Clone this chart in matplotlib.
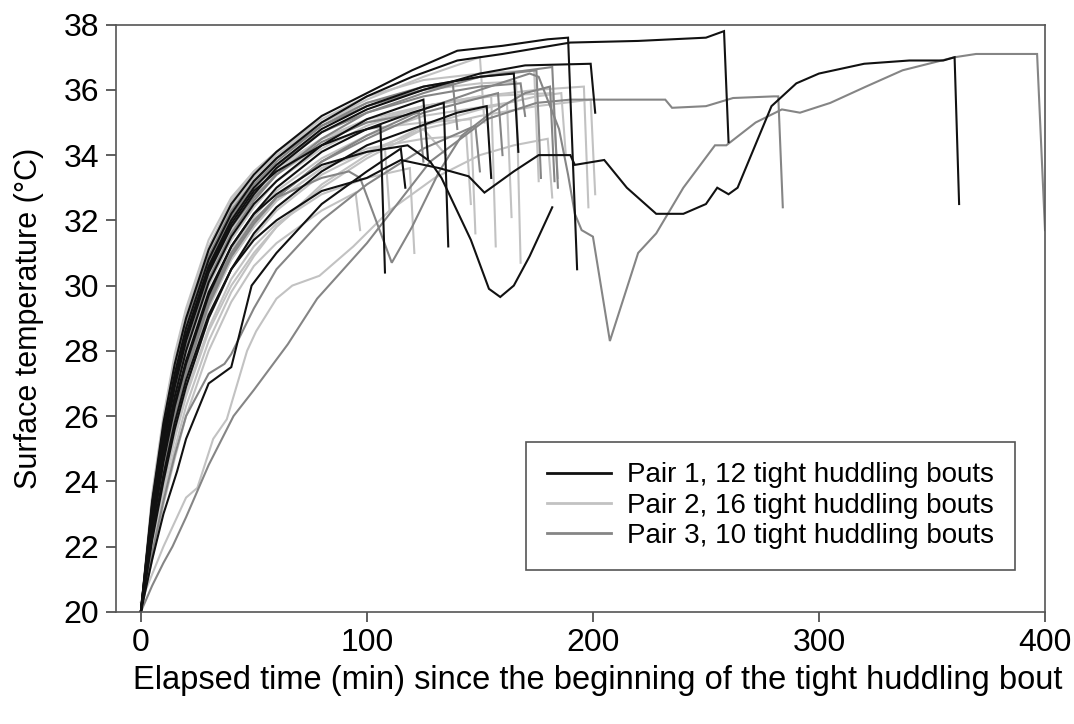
import matplotlib
matplotlib.use("Agg")
import matplotlib.pyplot as plt
from matplotlib.lines import Line2D

plt.rcParams['font.family'] = ['Liberation Sans', 'DejaVu Sans']

# Each bout: (elapsed time in min, surface temperature in degC)
pair1_bouts = [
    ([0, 5, 10, 14], [20, 23.3, 25.6, 26.8]),
    ([0, 5, 10, 15, 20, 30, 40, 50, 60, 80, 100, 120, 140, 160, 190, 220, 250, 258, 260],
     [20, 23.2, 25.5, 27.3, 28.7, 30.8, 32.2, 33.2, 33.9, 35.0, 35.8, 36.4, 36.9, 37.1, 37.45, 37.5, 37.6, 37.8, 34.4]),
    ([0, 5, 10, 15, 20, 30, 40, 50, 60, 80, 100, 120, 140, 160, 180, 189, 193],
     [20, 23.4, 25.8, 27.6, 29.0, 31.1, 32.5, 33.4, 34.1, 35.2, 35.9, 36.6, 37.2, 37.35, 37.55, 37.6, 30.5]),
    ([0, 5, 10, 15, 20, 30, 40, 50, 60, 80, 100, 125, 150, 170, 199, 201],
     [20, 22.8, 25.1, 26.9, 28.3, 30.4, 31.8, 32.8, 33.6, 34.7, 35.4, 36.0, 36.5, 36.75, 36.8, 35.3]),
    ([0, 5, 10, 15, 20, 30, 40, 50, 60, 80, 100, 115, 132, 145, 152, 165, 176, 190, 192, 205, 215, 228,
      240, 250, 255, 260, 264, 270, 279, 290, 300, 320, 340, 355, 360, 362],
     [20, 22.3, 24.2, 25.8, 27.1, 29.1, 30.5, 31.4, 32.0, 32.9, 33.3, 33.85, 33.6, 33.35, 32.85, 33.5, 34.0,
      34.0, 33.7, 33.85, 33.0, 32.2, 32.2, 32.5, 33.0, 32.8, 33.0, 34.0, 35.5, 36.2, 36.5, 36.8, 36.9, 36.9,
      37.0, 32.5]),
    ([0, 5, 10, 15, 20, 30, 40, 50, 60, 80, 100, 118, 128, 133, 146, 154, 159, 165, 172, 178, 182],
     [20, 22.6, 24.7, 26.4, 27.7, 29.8, 31.2, 32.2, 32.8, 33.7, 34.1, 34.3, 33.8, 33.3, 31.4, 29.9, 29.65,
      30.0, 30.9, 31.8, 32.4]),
    ([0, 5, 10, 15, 20, 30, 40, 50, 60, 80, 95, 106, 108],
     [20, 22.9, 25.2, 27.0, 28.4, 30.5, 31.9, 32.9, 33.5, 34.3, 34.7, 34.9, 30.4]),
    ([0, 5, 10, 15, 20, 30, 40, 50, 60, 80, 100, 120, 134, 136],
     [20, 22.5, 24.6, 26.3, 27.6, 29.7, 31.2, 32.2, 33.0, 34.1, 34.8, 35.3, 35.6, 31.2]),
    ([0, 5, 10, 15, 20, 30, 40, 50, 60, 80, 100, 120, 140, 153, 155],
     [20, 22.2, 24.0, 25.6, 26.9, 29.0, 30.5, 31.6, 32.4, 33.5, 34.3, 34.8, 35.3, 35.5, 33.3]),
    ([0, 5, 10, 15, 20, 30, 40, 50, 60, 80, 100, 125, 150, 165, 167],
     [20, 23.0, 25.3, 27.1, 28.5, 30.6, 32.0, 33.0, 33.7, 34.8, 35.5, 36.1, 36.4, 36.5, 34.1]),
    ([0, 5, 10, 15, 20, 30, 40, 50, 60, 80, 100, 125, 127],
     [20, 22.7, 24.9, 26.6, 28.0, 30.1, 31.5, 32.5, 33.2, 34.3, 35.1, 35.7, 33.9]),
    ([0, 5, 10, 16, 20, 30, 40, 49, 60, 80, 100, 115, 117],
     [20, 21.6, 23.0, 24.3, 25.3, 27.0, 27.5, 30.0, 31.0, 32.5, 33.5, 34.2, 33.0]),
]

pair2_bouts = [
    ([0, 5, 10, 15, 20, 30, 40, 50, 60, 80, 100, 125, 150, 152],
     [20, 23.6, 26.0, 27.9, 29.3, 31.4, 32.7, 33.5, 34.1, 35.0, 35.7, 36.4, 37.0, 35.0]),
    ([0, 5, 10, 15, 20, 30, 40, 50, 60, 80, 95, 97],
     [20, 21.6, 23.3, 24.7, 26.0, 28.0, 29.5, 30.6, 31.3, 32.3, 32.85, 31.7]),
    ([0, 5, 10, 15, 20, 30, 40, 50, 60, 80, 100, 119, 121],
     [20, 22.0, 23.9, 25.4, 26.7, 28.7, 30.2, 31.2, 31.9, 32.8, 33.3, 33.6, 31.0]),
    ([0, 5, 10, 15, 20, 30, 40, 50, 60, 80, 100, 125, 144, 146],
     [20, 22.3, 24.3, 25.9, 27.2, 29.3, 30.8, 31.8, 32.6, 33.6, 34.2, 34.5, 34.6, 32.5]),
    ([0, 5, 10, 15, 20, 30, 40, 50, 60, 80, 100, 125, 146, 148],
     [20, 22.8, 25.0, 26.8, 28.2, 30.3, 31.7, 32.7, 33.4, 34.3, 34.8, 35.0, 35.1, 31.6]),
    ([0, 5, 10, 15, 20, 30, 40, 50, 60, 80, 100, 125, 155, 157],
     [20, 23.1, 25.4, 27.2, 28.6, 30.6, 32.0, 32.9, 33.6, 34.5, 35.0, 35.5, 35.8, 31.2]),
    ([0, 5, 10, 15, 20, 30, 40, 50, 60, 80, 100, 125, 162, 164],
     [20, 22.5, 24.6, 26.3, 27.6, 29.7, 31.1, 32.1, 32.9, 33.9, 34.6, 35.2, 35.6, 32.1]),
    ([0, 5, 10, 15, 20, 30, 40, 50, 60, 80, 100, 125, 150, 166, 168],
     [20, 23.3, 25.7, 27.5, 28.9, 31.0, 32.4, 33.3, 34.0, 35.0, 35.6, 36.0, 36.2, 36.25, 30.7]),
    ([0, 5, 10, 15, 20, 30, 40, 50, 60, 80, 100, 125, 150, 182, 184.5],
     [20, 22.9, 25.2, 27.0, 28.4, 30.4, 31.8, 32.8, 33.5, 34.5, 35.1, 35.5, 35.8, 35.9, 33.3]),
    ([0, 5, 10, 15, 20, 30, 40, 50, 60, 80, 100, 125, 150, 175, 196, 198],
     [20, 22.6, 24.8, 26.5, 27.9, 30.0, 31.4, 32.4, 33.2, 34.2, 34.9, 35.5, 35.8, 36.0, 36.1, 32.4]),
    ([0, 5, 10, 15, 20, 30, 40, 50, 60, 80, 100, 125, 150, 175, 199, 201],
     [20, 22.1, 24.0, 25.6, 26.9, 29.0, 30.5, 31.5, 32.3, 33.4, 34.1, 34.8, 35.2, 35.5, 35.7, 32.8]),
    ([0, 5, 10, 15, 20, 30, 40, 50, 60, 80, 100, 125, 150, 174, 176],
     [20, 23.5, 25.9, 27.8, 29.2, 31.2, 32.6, 33.5, 34.1, 35.1, 35.8, 36.3, 36.5, 36.6, 33.2]),
    ([0, 5, 10, 15, 20, 30, 40, 50, 60, 80, 100, 125, 135],
     [20, 22.0, 23.8, 25.3, 26.6, 28.6, 30.0, 31.0, 31.8, 33.0, 33.9, 34.8, 34.0]),
    ([0, 5, 10, 15, 20, 30, 40, 50, 60, 80, 100, 125, 150, 175, 186, 188],
     [20, 21.8, 23.6, 25.0, 26.3, 28.3, 29.8, 30.9, 31.8, 33.1, 34.0, 34.9, 35.4, 35.8, 35.9, 34.0]),
    ([0, 5, 10, 15, 20, 30, 40, 50, 60, 80, 100, 108, 110],
     [20, 22.4, 24.5, 26.1, 27.4, 29.4, 30.8, 31.8, 32.6, 33.6, 34.1, 34.2, 32.3]),
    ([0, 10, 20, 25, 32, 38, 47, 51, 60, 67, 79, 94, 110, 130, 150, 165, 180, 182],
     [20.3, 22.0, 23.5, 23.8, 25.3, 25.9, 28.0, 28.6, 29.6, 30.0, 30.3, 31.2, 32.3, 33.3, 34.0, 34.3, 34.5, 32.7]),
]

pair3_bouts = [
    ([0, 5, 10, 14, 20, 30, 41, 50, 65, 78, 100, 128, 153, 175, 190, 200, 232, 235, 250, 262, 280, 282, 284],
     [20, 20.8, 21.5, 22.0, 22.9, 24.5, 26.0, 26.8, 28.2, 29.6, 31.3, 33.8, 35.1, 35.6, 35.7, 35.7, 35.7,
      35.45, 35.5, 35.75, 35.8, 35.8, 32.4]),
    ([0, 5, 10, 15, 20, 30, 40, 50, 60, 80, 100, 125, 150, 172, 176, 185, 189, 192, 195, 200, 207.5, 220,
      228, 240, 254, 259, 272, 283.6, 291.6, 305, 320.8, 337, 360, 369.5, 396.5, 400],
     [20, 22.4, 24.4, 26.0, 27.3, 29.4, 30.9, 31.9, 32.7, 33.8, 34.6, 35.4, 36.0, 36.5, 36.4, 34.8, 33.4,
      32.2, 31.7, 31.5, 28.3, 31.0, 31.6, 33.0, 34.3, 34.3, 35.0, 35.4, 35.3, 35.6, 36.1, 36.6, 37.0, 37.1,
      37.1, 31.7]),
    ([0, 5, 10, 15, 20, 30, 40, 50, 60, 80, 92, 97, 111, 120, 132, 142, 155, 170, 181, 183],
     [20, 22.5, 24.5, 26.1, 27.5, 29.6, 31.0, 32.0, 32.7, 33.3, 33.5, 33.3, 30.7, 31.8, 33.5, 34.6, 35.3,
      35.9, 36.1, 33.2]),
    ([0, 5, 10, 15, 20, 30, 40, 50, 60, 80, 100, 125, 150, 175, 177],
     [20, 23.0, 25.4, 27.2, 28.6, 30.7, 32.1, 33.1, 33.8, 34.9, 35.6, 36.1, 36.4, 36.6, 33.3]),
    ([0, 5, 10, 15, 20, 30, 40, 50, 60, 80, 100, 125, 150, 182, 184.5],
     [20, 22.7, 25.0, 26.7, 28.1, 30.2, 31.6, 32.6, 33.4, 34.5, 35.3, 35.9, 36.4, 36.7, 33.0]),
    ([0, 5, 10, 15, 20, 30, 40, 50, 60, 80, 100, 125, 138, 140],
     [20, 23.3, 25.7, 27.5, 28.9, 30.9, 32.3, 33.2, 33.9, 34.9, 35.5, 36.0, 36.2, 34.8]),
    ([0, 5, 10, 15, 20, 30, 40, 50, 60, 80, 100, 125, 158, 160],
     [20, 22.4, 24.5, 26.1, 27.5, 29.5, 30.9, 31.9, 32.7, 33.8, 34.5, 35.3, 35.9, 34.0]),
    ([0, 5, 10, 15, 20, 30, 40, 50, 60, 80, 100, 123, 125],
     [20, 23.0, 25.3, 27.0, 28.4, 30.4, 31.8, 32.7, 33.4, 34.4, 35.0, 35.3, 33.8]),
    ([0, 5, 10, 15, 20, 30, 40, 50, 60, 80, 100, 125, 150, 168, 170],
     [20, 23.2, 25.5, 27.3, 28.7, 30.7, 32.1, 33.0, 33.7, 34.7, 35.3, 35.8, 36.1, 36.2, 35.2]),
    ([0, 5, 10, 15, 20, 30, 37, 40, 50, 60, 80, 100, 125, 148, 150],
     [20, 21.8, 23.4, 24.8, 26.0, 27.3, 27.6, 27.9, 29.3, 30.5, 32.0, 33.1, 34.2, 34.9, 33.5]),
]

pair_colors = ['#111111', '#c2c2c2', '#858585']
pair_labels = ['Pair 1, 12 tight huddling bouts',
               'Pair 2, 16 tight huddling bouts',
               'Pair 3, 10 tight huddling bouts']

fig = plt.figure(figsize=(10.74, 7.24), dpi=100)
ax = fig.add_axes([0.108, 0.155, 0.865, 0.811])

# light gray first so the darker pairs sit on top
for bouts, color in [(pair2_bouts, pair_colors[1]), (pair3_bouts, pair_colors[2]), (pair1_bouts, pair_colors[0])]:
    for t, temp in bouts:
        ax.plot(t, temp, color=color, lw=1.5, solid_joinstyle='miter')

ax.set_xlim(-11, 400)
ax.set_ylim(20, 38)
ax.set_xticks([0, 100, 200, 300, 400])
ax.set_yticks(range(20, 39, 2))
ax.tick_params(labelsize=23, length=7, width=1.2, color='#444444', pad=5)
for sp in ax.spines.values():
    sp.set_color('#555555')
    sp.set_linewidth(1.2)

ax.set_xlabel('Elapsed time (min) since the beginning of the tight huddling bout', fontsize=23.5)
ax.set_ylabel('Surface temperature (\u00b0C)', fontsize=22)
ax.xaxis.set_label_coords(0.518, -0.09)
ax.yaxis.set_label_coords(-0.077, 0.5)

handles = [Line2D([], [], color=c, lw=2) for c in pair_colors]
leg = ax.legend(handles, pair_labels, loc='lower right', bbox_to_anchor=(0.968, 0.072),
                fontsize=20, fancybox=False, framealpha=1, edgecolor='#555555',
                handlelength=2.3, borderpad=0.75, labelspacing=0.15, handletextpad=0.6,
                borderaxespad=0)
leg.get_frame().set_linewidth(1.2)

fig.savefig('out.png', dpi=100)
